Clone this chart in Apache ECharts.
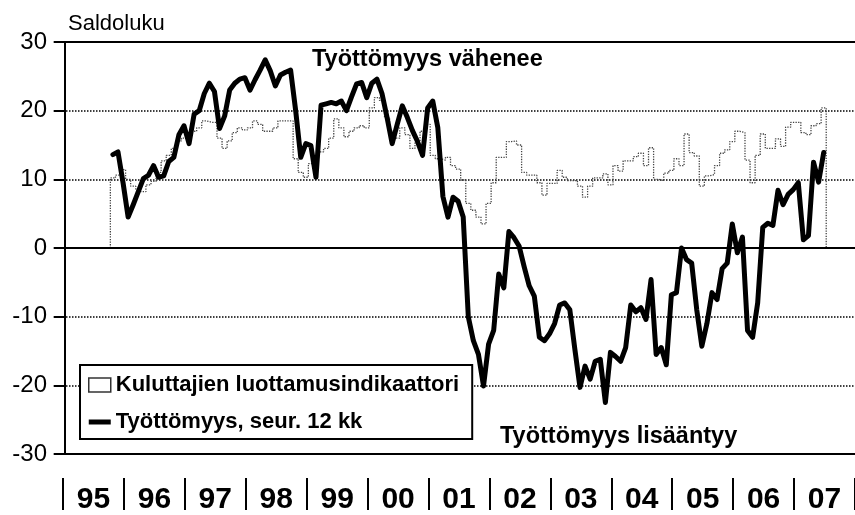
<!DOCTYPE html>
<html><head><meta charset="utf-8">
<script src="https://cdn.jsdelivr.net/npm/echarts@6/dist/echarts.min.js"></script>
<style>html,body{margin:0;padding:0;background:#fff}#c{width:855px;height:515px}</style>
</head><body><div id="c"></div>
<script>
// ---- data ----
const yearLabels = ['95','96','97','98','99','00','01','02','03','04','05','06','07'];
const firstMonth = '1995-10';   // first monthly observation
const yTicks = { min: -30, max: 30, step: 10 };

// Työttömyys, seur. 12 kk (unemployment expectations, balance)
const unemployment = [
  13.6, 14.0, 9.5,
  4.5, 6.3, 8.2, 10.1, 10.6, 12.0, 10.3, 10.5, 12.6, 13.2, 16.5, 17.8,
  15.2, 19.5, 20.0, 22.5, 24.0, 22.8, 17.4, 19.2, 23.0, 24.0, 24.6, 24.8,
  23.0, 24.5, 25.9, 27.4, 25.8, 23.6, 25.2, 25.6, 25.9, 20.0, 13.2, 15.2,
  14.9, 10.3, 20.8, 21.0, 21.2, 21.0, 21.4, 20.0, 22.0, 23.9, 24.1, 21.9,
  24.0, 24.6, 22.5, 19.0, 15.2, 18.0, 20.7, 19.0, 17.1, 15.5, 13.5, 20.4,
  21.4, 17.5, 7.5, 4.5, 7.4, 6.8, 4.5, -10.0, -13.5, -15.5, -20.1, -14.0,
  -12.0, -3.8, -5.8, 2.4, 1.5, 0.3, -2.7, -5.5, -7.0, -13.0, -13.5, -12.5,
  -11.0, -8.3, -8.0, -9.0, -14.8, -20.3, -17.2, -19.1, -16.5, -16.2, -22.5, -15.2,
  -15.8, -16.5, -14.5, -8.3, -9.3, -8.7, -10.4, -4.6, -15.5, -14.5, -17.0, -6.8,
  -6.5, 0.0, -1.7, -2.2, -9.0, -14.3, -11.0, -6.5, -7.5, -3.0, -2.2, 3.5,
  -0.7, 1.6, -12.0, -13.0, -8.0, 3.0, 3.6, 3.3, 8.4, 6.3, 7.8, 8.5,
  9.5, 1.2, 1.8, 12.5, 9.6, 13.9
];

// Kuluttajien luottamusindikaattori (consumer confidence indicator)
const confidence = [
  10.2, 10.6, 11.4,
  10.0, 9.0, 8.5, 8.2, 9.2, 9.7, 11.0, 12.7, 13.5, 14.5, 15.6, 16.0,
  16.5, 17.0, 17.5, 18.5, 18.3, 18.3, 16.0, 14.5, 15.6, 16.8, 17.5, 17.2,
  17.5, 18.5, 18.0, 17.0, 17.0, 17.5, 18.5, 18.5, 18.5, 13.0, 11.0, 10.3,
  12.3, 13.0, 14.0, 14.5, 16.0, 18.8, 17.5, 16.2, 17.0, 17.5, 17.8, 17.5,
  20.4, 21.9, 21.5, 19.0, 17.0, 16.0, 17.5, 16.5, 14.5, 15.5, 17.0, 18.0,
  13.5, 13.0, 12.8, 13.2, 12.0, 11.5, 9.9, 6.5, 5.5, 4.5, 3.5, 6.5,
  9.5, 13.2, 13.2, 15.5, 15.6, 15.0, 11.0, 10.6, 10.6, 9.5, 7.7, 9.4,
  9.4, 11.3, 10.3, 9.8, 9.8, 9.0, 7.4, 9.0, 10.2, 10.2, 10.8, 9.2,
  12.0, 11.2, 12.7, 12.7, 13.3, 13.8, 12.0, 14.6, 10.0, 9.8, 10.9, 11.3,
  13.0, 12.0, 16.6, 13.9, 13.4, 9.0, 10.5, 10.7, 12.0, 13.8, 14.3, 15.5,
  17.0, 16.8, 12.8, 9.5, 13.5, 16.6, 14.5, 14.5, 15.9, 14.8, 17.6, 18.3,
  18.3, 16.8, 16.5, 17.8, 18.1, 20.4
];

// ---- build series data (month index since Jan 1995) ----
const [fy, fm] = firstMonth.split('-').map(Number);
const base = (fy - 1995) * 12 + (fm - 1);
const totalMonths = yearLabels.length * 12;
const lineData = unemployment.map((v, i) => [base + i + 0.5, v]);
const stepData = [[base, 0]];
confidence.forEach((v, i) => stepData.push([base + i, v]));
stepData.push([base + confidence.length, confidence[confidence.length - 1]]);
stepData.push([base + confidence.length, 0]);

const NARROW = '"Liberation Sans Narrow", "Arial Narrow", "Liberation Sans", Arial, sans-serif';
const SANS = '"Liberation Sans", Arial, Helvetica, sans-serif';
const monthShift = 0.33; // plotted months sit slightly after the year separators

const chart = echarts.init(document.getElementById('c'), null, { renderer: 'canvas' });
chart.setOption({
  animation: false,
  backgroundColor: '#fff',
  title: {
    text: 'Saldoluku', left: 63, top: 8,
    textStyle: { fontSize: 22, fontWeight: 'normal', color: '#000', fontFamily: SANS }
  },
  grid: { left: 63, top: 42, right: -8, bottom: 59, containLabel: false },
  xAxis: [
    { type: 'value', min: -monthShift, max: totalMonths - monthShift, show: false },
    {
      type: 'category', data: yearLabels, position: 'bottom', offset: 24,
      boundaryGap: true,
      axisLine: { show: false },
      axisTick: { show: true, length: 32, alignWithLabel: false, interval: 0,
                  lineStyle: { color: '#000', width: 2 } },
      axisLabel: { interval: 0, margin: 7, fontSize: 30, fontWeight: 'bold',
                   color: '#000', fontFamily: SANS },
      splitLine: { show: false }
    }
  ],
  yAxis: {
    type: 'value', min: yTicks.min, max: yTicks.max, interval: yTicks.step,
    axisLine: { show: true, lineStyle: { color: '#000', width: 2 } },
    axisTick: { show: true, length: 11, lineStyle: { color: '#000', width: 2 } },
    axisLabel: { fontSize: 24, color: '#000', margin: 16, fontFamily: NARROW },
    splitLine: { show: true, lineStyle: { type: 'dotted', color: '#000', width: 1.5 } }
  },
  legend: {
    left: 80, top: 365, orient: 'vertical',
    backgroundColor: '#fff',
    borderColor: '#000', borderWidth: 2, padding: [9, 13, 6, 8],
    itemWidth: 22, itemHeight: 14, itemGap: 15,
    textStyle: { fontSize: 22, fontWeight: 'bold', color: '#000', fontFamily: SANS },
    data: [
      { name: 'Kuluttajien luottamusindikaattori', icon: 'rect',
        itemStyle: { color: '#fff', borderColor: '#333', borderWidth: 1.5 } },
      { name: 'Työttömyys, seur. 12 kk', icon: 'path://M0,0H22V5H0Z',
        itemStyle: { color: '#000' } }
    ]
  },
  graphic: [
    { type: 'text', left: 312, top: 48, z: 10,
      style: { text: 'Työttömyys vähenee', font: 'bold 23.5px ' + SANS, fill: '#000' } },
    { type: 'text', left: 500, top: 425, z: 10,
      style: { text: 'Työttömyys lisääntyy', font: 'bold 23.5px ' + SANS, fill: '#000' } }
  ],
  series: [
    {
      name: 'Kuluttajien luottamusindikaattori', type: 'line', xAxisIndex: 0,
      data: stepData, step: 'end', symbol: 'none', z: 2,
      lineStyle: { color: '#444', width: 1.3, type: 'dotted' },
      markLine: {
        silent: true, symbol: ['none', 'none'], label: { show: false },
        lineStyle: { type: 'solid', color: '#000', width: 2 },
        data: [{ yAxis: 0 }, { yAxis: yTicks.max }, { yAxis: yTicks.min }]
      }
    },
    {
      name: 'Työttömyys, seur. 12 kk', type: 'line', xAxisIndex: 0,
      data: lineData, symbol: 'none', z: 3,
      lineStyle: { color: '#000', width: 5, join: 'round', cap: 'round' }
    }
  ]
});
</script>
</body></html>
